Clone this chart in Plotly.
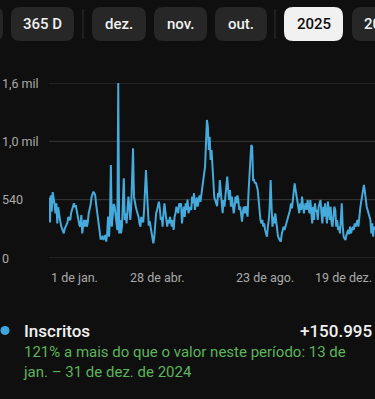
import pandas as pd
import plotly.graph_objects as go

# ---------------- data ----------------
start_date = "2025-01-01"
n_days = 354
dates = pd.date_range(start_date, periods=n_days, freq="D")

subs = [
    # Jan 1 .. Mar 13
    560,330,580,430,610,560,500,414,506,320,
    470,400,320,300,275,250,228,270,290,310,
    330,380,370,350,420,445,480,506,470,490,
    440,390,352,300,290,398,228,300,352,290,
    352,290,330,414,450,490,560,600,614,600,
    583,500,430,400,290,210,170,190,198,167,
    190,213,151,230,383,198,352,860,290,414,
    500,480,
    # Mar 14 .. May 23
    400,290,259,1620,228,352,228,290,475,737,
    352,414,320,430,568,475,352,475,700,1015,
    568,506,475,440,414,380,320,290,380,350,
    330,450,630,815,630,414,300,340,280,240,
    198,136,198,320,414,445,500,522,460,352,
    380,290,414,506,430,352,290,352,320,380,
    340,290,352,259,383,414,475,430,414,506,
    475,
    # May 24 .. Aug 1
    506,320,414,475,380,506,445,540,414,440,
    475,445,568,506,600,445,506,560,475,537,
    580,520,600,680,722,784,846,1031,1278,1216,
    1000,1123,907,1000,815,700,560,537,506,480,
    600,560,722,600,506,414,537,475,568,660,
    753,630,537,630,475,568,506,414,475,568,
    506,580,537,445,475,414,336,430,475,414,
    # Aug 2 .. Oct 10
    480,430,383,600,784,969,1046,1030,722,722,
    691,700,660,630,537,400,352,320,352,290,
    320,260,228,198,290,352,475,722,475,290,
    383,320,414,320,260,200,180,160,151,220,
    260,290,260,290,320,352,383,414,445,506,
    460,530,600,691,630,568,506,475,414,506,
    445,568,475,414,475,506,445,537,475,414,
    # Oct 11 .. Dec 20
    537,414,320,475,352,506,430,445,352,475,
    506,537,414,320,475,383,506,414,320,522,
    430,352,475,320,290,414,475,445,290,352,
    259,290,228,352,506,300,198,180,167,210,
    240,260,220,290,230,260,290,260,320,290,
    336,352,290,400,460,520,570,630,676,620,
    506,475,445,414,383,352,228,320,198,290,
    260,
]

y_tick_vals = [0, 540, 1080, 1620]
y_tick_text = ["0", "540", "1,0 mil", "1,6 mil"]

x_label_dates = ["2025-01-01", "2025-04-28", "2025-08-23", "2025-12-19"]
x_label_text = ["1 de jan.", "28 de abr.", "23 de ago.", "19 de dez."]
x_label_anchor = ["left", "center", "center", "right"]

chip_labels = ["", "365 D", "dez.", "nov.", "out.", "2025", "2024"]
chip_selected = "2025"

metric_name = "Inscritos"
metric_total = "+150.995"
comparison_text = "121% a mais do que o valor neste período: 13 de<br>jan. – 31 de dez. de 2024"

# ---------------- layout geometry (pixels) ----------------
W, H = 375, 399
plot_left, plot_top, plot_bottom = 49, 83, 258
BG = "#0f0f0f"
LINE = "#45aadc"
FONT = "Roboto"

def px_x(px):
    return px / W

def px_y(py):
    return (plot_bottom - py) / (plot_bottom - plot_top)

fig = go.Figure()
fig.add_trace(go.Scatter(
    x=dates, y=subs, mode="lines",
    line=dict(color=LINE, width=2),
    hoverinfo="skip", showlegend=False,
))

shapes = []
annotations = []

# horizontal gridlines + y labels (placed through the y scale)
for v, t in zip(y_tick_vals, y_tick_text):
    shapes.append(dict(type="line", xref="paper", yref="y",
                       x0=px_x(plot_left), x1=1, y0=v, y1=v,
                       line=dict(color="#3a3a3a", width=1), layer="below"))
    annotations.append(dict(x=0, y=v, xref="paper", yref="y", text=t, showarrow=False,
                            xanchor="left", yanchor="middle", xshift=0,
                            font=dict(family=FONT, size=12.5, color="#aaaaaa")))

# chips
chip_boxes = [(-60, 3), (11, 74), (92, 146), (154, 207), (215, 267), (284, 343), (352, 411)]
chip_top, chip_bot, rad = 7, 41, 9
for lab, (x0, x1) in zip(chip_labels, chip_boxes):
    sel = lab == chip_selected
    fill = "#f1f1f1" if sel else "#272727"
    rx = rad / W
    ry = rad / (plot_bottom - plot_top)
    X0, X1 = px_x(x0), px_x(x1)
    Yt, Yb = px_y(chip_top), px_y(chip_bot)
    path = (f"M {X0+rx},{Yt} L {X1-rx},{Yt} Q {X1},{Yt} {X1},{Yt-ry} "
            f"L {X1},{Yb+ry} Q {X1},{Yb} {X1-rx},{Yb} L {X0+rx},{Yb} "
            f"Q {X0},{Yb} {X0},{Yb+ry} L {X0},{Yt-ry} Q {X0},{Yt} {X0+rx},{Yt} Z")
    shapes.append(dict(type="path", path=path, xref="paper", yref="paper",
                       fillcolor=fill, line=dict(width=0), layer="above"))
    if lab:
        annotations.append(dict(
            x=px_x((x0 + x1) / 2), y=px_y((chip_top + chip_bot) / 2),
            xref="paper", yref="paper", text=lab, showarrow=False,
            xanchor="center", yanchor="middle",
            font=dict(family=FONT, size=15, color="#0f0f0f" if sel else "#f1f1f1", weight=500)))

# separators
for sx in (83, 275):
    shapes.append(dict(type="line", xref="paper", yref="paper",
                       x0=px_x(sx), x1=px_x(sx), y0=px_y(9), y1=px_y(39),
                       line=dict(color="#2e2e2e", width=1)))

# x labels
for d, t, a in zip(x_label_dates, x_label_text, x_label_anchor):
    annotations.append(dict(x=d, y=0, xref="x", yref="paper", text=t, showarrow=False,
                            xanchor=a, yanchor="top", yshift=-10,
                            font=dict(family=FONT, size=12.5, color="#aaaaaa")))

# legend dot
shapes.append(dict(type="circle", xref="paper", yref="paper",
                   x0=px_x(0.5), x1=px_x(9.5), y0=px_y(326), y1=px_y(335),
                   fillcolor="#3ea6dc", line=dict(width=0)))
annotations.append(dict(x=px_x(22), y=px_y(331), xref="paper", yref="paper",
                        text=metric_name, showarrow=False, xanchor="left", yanchor="middle",
                        font=dict(family=FONT, size=17, color="#f1f1f1", weight=500)))
annotations.append(dict(x=px_x(374), y=px_y(331), xref="paper", yref="paper",
                        text=metric_total, showarrow=False, xanchor="right", yanchor="middle",
                        font=dict(family=FONT, size=17, color="#f1f1f1", weight=500)))
annotations.append(dict(x=px_x(21), y=px_y(341), xref="paper", yref="paper",
                        text=comparison_text, showarrow=False, xanchor="left", yanchor="top",
                        align="left",
                        font=dict(family=FONT, size=15, color="#5cb45c")))

fig.update_layout(
    width=W, height=H,
    margin=dict(l=0, r=0, t=plot_top, b=H - plot_bottom, pad=0),
    paper_bgcolor=BG, plot_bgcolor=BG,
    shapes=shapes, annotations=annotations,
    xaxis=dict(domain=[px_x(plot_left), 1], range=["2025-01-01", "2025-12-20"],
               showgrid=False, zeroline=False, showticklabels=False, showline=False),
    yaxis=dict(range=[0, 1620], showgrid=False, zeroline=False, showline=False,
               showticklabels=False, ticks=""),
    font=dict(family=FONT),
)

fig.write_html(
    "out.html",
    config={"displayModeBar": False, "staticPlot": True},
    post_script="document.body.style.margin='0';document.body.style.background='#0f0f0f';"
                "document.body.style.overflow='hidden';",
)
